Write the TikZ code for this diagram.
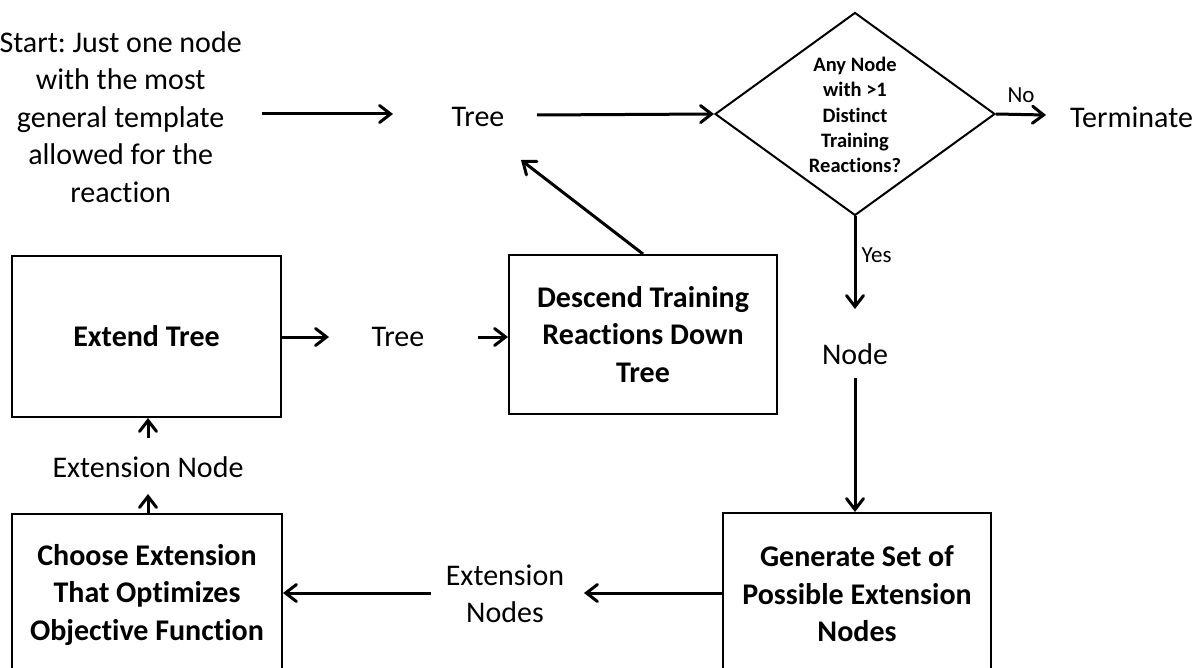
\documentclass[tikz,border=0pt]{standalone}
\usepackage{fontspec}
\setmainfont{Carlito}[Ligatures=NoCommon]
\usetikzlibrary{arrows.meta,shapes.geometric}
\frenchspacing
\begin{document}
\begin{tikzpicture}[x=1pt,y=-1pt,
  txt/.style={inner sep=0pt,align=center,font=\fontsize{30}{37.5}\selectfont},
  lbl/.style={inner sep=0pt,font=\fontsize{23}{27}\selectfont},
  boxnode/.style={draw,line width=2pt,inner sep=0pt,align=center,font=\bfseries\fontsize{30}{37.5}\selectfont},
  arr/.style={line width=3pt,-{Straight Barb[length=11pt,width=17pt,line cap=round]}}]
\useasboundingbox (0,0) rectangle (1198,668);
% nodes
\node[txt,anchor=east] (start) at (242,117) {Start: Just one node\\with the most\\general template\\allowed for the\\reaction};
\node[txt] (tree1) at (478,117) {Tree};
\node[diamond,draw,line width=2pt,inner sep=0pt,minimum width=280pt,minimum height=203pt] (dia) at (855,114) {};
\node[inner sep=0pt,align=center,font=\bfseries\fontsize{20.5}{25.3}\selectfont] (diatext) at (855,115) {Any Node\\with >1\\Distinct\\Training\\Reactions?};
\node[txt,anchor=west] (term) at (1070,117) {Terminate};
\node[txt] (nodeT) at (855,354) {Node};
\node[boxnode,minimum width=268pt,minimum height=162pt] (gen) at (857,594) {Generate Set of\\Possible Extension\\Nodes};
\node[txt] (extnodes) at (505,594) {Extension\\Nodes};
\node[boxnode,minimum width=270pt,minimum height=162pt] (choose) at (147,595) {Choose Extension\\That Optimizes\\Objective Function};
\node[txt] (extnode) at (148,467) {Extension Node};
\node[boxnode,minimum width=269pt,minimum height=161pt] (extend) at (146.5,336.5) {Extend Tree};
\node[txt] (tree2) at (398,337) {Tree};
\node[boxnode,minimum width=268pt,minimum height=159pt] (desc) at (643,334.5) {Descend Training\\Reactions Down\\Tree};
% free ends
\coordinate (c1s) at (262,114);
\coordinate (c1e) at (393,114);
\coordinate (c2s) at (537,115);
\coordinate (c3e) at (1046,115);
\coordinate (c4e) at (855,309);
\coordinate (c5s) at (855,378);
\coordinate (c6e) at (584,593);
\coordinate (c7s) at (431,593);
\coordinate (c8e) at (148,494);
\coordinate (c9s) at (148,438);
\coordinate (c10e) at (329,337);
\coordinate (c11s) at (478,337);
\coordinate (c12e) at (521,160);
% connectors
\draw[arr] (c1s) -- (c1e);
\draw[arr] (c2s) -- (dia.west);
\draw[arr] (dia.east) -- node[lbl,above=10pt,pos=0.5] (no) {No} (c3e);
\draw[arr] (dia.south) -- node[lbl,right=5pt,pos=0.42] (yes) {Yes} (c4e);
\draw[arr] (c5s) -- (c5s |- gen.north);
\draw[arr] (gen.west |- c6e) -- (c6e);
\draw[arr] (c7s) -- (choose.east |- c7s);
\draw[arr] (c8e |- choose.north) -- (c8e);
\draw[arr] (c9s) -- (c9s |- extend.south);
\draw[arr] (extend.east |- c10e) -- (c10e);
\draw[arr] (c11s) -- (desc.west |- c11s);
\draw[arr] (desc.north) -- (c12e);
\end{tikzpicture}
\end{document}
